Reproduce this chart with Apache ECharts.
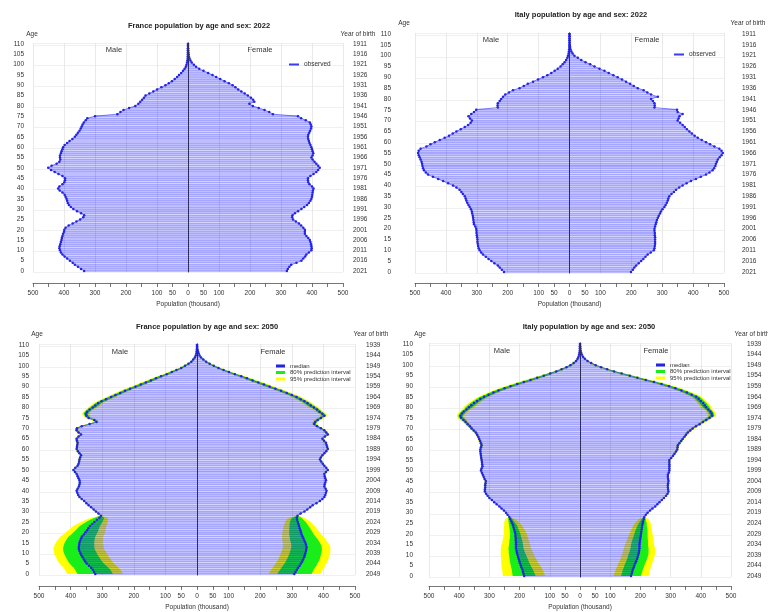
<!DOCTYPE html>
<html><head><meta charset="utf-8">
<script src="https://cdn.jsdelivr.net/npm/echarts@6/dist/echarts.min.js"></script>
<style>html,body{margin:0;padding:0;background:#fff}#c{width:768px;height:612px}</style>
</head><body><div id="c"></div>
<script>
// ---------- categories & tick labels ----------
const ages = [0,1,2,3,4,5,6,7,8,9,10,11,12,13,14,15,16,17,18,19,20,21,22,23,24,25,26,27,28,29,30,31,32,33,34,35,36,37,38,39,40,41,42,43,44,45,46,47,48,49,50,51,52,53,54,55,56,57,58,59,60,61,62,63,64,65,66,67,68,69,70,71,72,73,74,75,76,77,78,79,80,81,82,83,84,85,86,87,88,89,90,91,92,93,94,95,96,97,98,99,100,101,102,103,104,105,106,107,108,109,110];
const yob2022 = [2021,2016,2011,2006,2001,1996,1991,1986,1981,1976,1971,1966,1961,1956,1951,1946,1941,1936,1931,1926,1921,1916,1911];
const yob2050 = [2049,2044,2039,2034,2029,2024,2019,2014,2009,2004,1999,1994,1989,1984,1979,1974,1969,1964,1959,1954,1949,1944,1939];
const xLabelShown = [-500,-400,-300,-200,-100,-50,0,50,100,200,300,400,500];

// ---------- France 2022 (thousand) ----------
const fr22M = [335,345,355,365,372,381,390,398,405,410,
413,415,414,412,410,408,407,405,403,400,
399,395,385,372,360,348,338,335,345,358,
370,378,384,388,390,392,395,398,405,414,
419,415,405,399,397,397,405,418,430,442,
451,440,424,415,412,413,413,410,408,405,
403,398,390,382,373,365,360,355,350,346,
343,340,336,330,325,300,228,218,208,190,
170,160,154,148,142,137,125,112,100,86,
73,62,52,43,35,29,22,16,11,7,
5,3,2,1,1,0.5,0.3,0.2,0.1,0.1,0];
const fr22F = [319,322,327,333,350,366,372,378,382,390,
398,399,398,397,395,393,388,382,377,377,
377,372,365,358,348,339,336,337,345,355,
366,375,384,390,395,398,400,401,402,403,
405,400,392,388,387,387,395,405,414,420,
425,420,414,408,402,398,402,404,402,400,
398,395,392,390,388,387,388,391,394,397,
398,396,393,380,365,355,274,262,247,228,
209,198,214,210,203,193,183,172,162,153,
144,132,118,104,91,79,65,50,36,26,
19,12,8,5,3,2,1,0.5,0.3,0.1,0];

// ---------- Italy 2022 ----------
const it22M = [212,219,226,232,243,253,262,271,280,286,
291,294,296,297,298,298,299,300,301,301,
302,305,309,310,311,312,313,315,316,319,
323,327,331,334,336,339,345,350,356,366,
377,393,409,425,442,458,465,471,474,476,
477,479,482,485,488,490,488,482,463,450,
436,420,404,390,378,366,352,339,328,320,
316,322,327,318,309,302,232,233,232,226,
221,215,208,196,183,162,148,135,118,102,
86,72,59,48,38,29,22,16,11,7,
5,3,2,1,0.6,0.4,0.2,0.1,0.1,0,0];
const it22F = [199,205,210,216,224,232,239,246,253,263,
273,275,276,277,277,277,277,276,276,275,
275,277,279,281,283,286,289,293,296,301,
307,311,315,318,320,323,330,338,345,355,
366,379,393,409,425,442,453,463,468,472,
474,477,480,486,492,496,492,485,469,455,
442,428,415,405,396,388,380,373,366,358,
350,353,356,366,350,348,275,276,275,270,
264,286,264,252,240,221,208,196,183,170,
156,142,127,113,97,81,67,52,38,27,
16,10,6,3,2,1,0.5,0.3,0.1,0,0];

// ---------- France 2050 medians ----------
const fr50M = [322,326,330,335,342,349,354,358,362,366,
369,372,374,374,373,372,370,367,364,358,
353,348,344,339,332,325,317,309,304,312,
320,327,335,343,350,357,365,372,376,379,
381,378,374,372,371,372,375,378,381,386,
391,385,378,375,373,372,370,367,372,377,
381,380,379,378,380,381,375,367,375,381,
380,365,340,318,325,343,350,352,348,340,
330,322,313,302,288,272,258,243,228,212,
195,178,162,146,130,114,96,80,65,50,
38,27,18,12,7,4,2,1,0.5,0.2,0.1];
const fr50F = [308,312,316,320,325,329,333,336,339,341,
343,345,346,347,345,343,340,337,334,331,
329,327,325,323,321,319,317,316,318,328,
340,349,358,366,378,389,397,403,406,408,
410,407,403,404,406,408,406,404,403,408,
414,409,403,398,393,389,392,397,403,409,
414,412,410,408,402,397,405,414,409,403,
392,380,371,374,382,392,403,397,388,380,
370,360,350,340,328,315,300,284,266,248,
230,212,194,176,158,140,120,101,84,68,
53,40,29,20,13,8,5,3,1.5,0.8,0.3];

// ---------- Italy 2050 medians ----------
const it50M = [185,187,189,191,194,196,199,201,203,205,
207,209,210,212,212,212,212,213,213,214,
214,216,218,220,222,225,228,231,234,240,
245,252,260,267,276,284,292,300,306,311,
315,315,314,314,313,312,316,319,322,325,
328,326,323,324,325,326,327,328,329,330,
330,328,326,328,331,334,337,341,345,352,
359,365,372,379,386,394,396,391,385,376,
368,360,351,341,330,318,303,287,270,250,
230,208,186,164,142,120,99,79,61,45,
32,21,13,8,5,3,1.5,0.8,0.4,0.2,0.1];
const it50F = [169,171,173,175,178,180,183,186,189,191,
193,195,196,197,197,197,198,199,200,201,
202,203,204,205,206,208,209,211,213,218,
224,232,240,249,256,263,271,278,285,290,
293,292,291,291,292,293,292,291,291,294,
296,296,296,296,296,296,302,308,313,318,
322,323,324,329,335,340,346,351,357,365,
373,384,396,407,418,429,438,436,432,425,
418,413,408,400,393,385,370,354,336,316,
295,270,245,218,190,165,138,113,90,70,
52,37,25,16,10,6,3.5,2,1,0.5,0.2];

// ---------- prediction-interval half widths (thousand) ----------
// ages 0-27 (born after 2022)
const frMw80Young = [56,56,56,55,55,54,54,53,53,52,52,51,50,49,48,47,45,44,42,40,38,36,34,32,29,26,21,15];
const frMw95Young = [88,88,88,87,87,86,86,85,84,84,83,82,80,79,77,75,73,70,68,65,62,59,56,52,48,42,35,25];
const frFw80Young = [54,54,53,53,53,52,52,52,51,51,50,50,49,48,47,46,45,43,41,39,37,35,33,30,28,25,20,15];
const frFw95Young = [82,82,82,81,81,80,80,79,79,78,78,77,76,75,74,72,70,68,65,62,59,56,53,49,45,40,33,24];
const itMw80Young = [38,37,36,35,34,33,32,31,30,29,28,27,26,25,24,23,22,21,19,18,17,16,15,14,13,11,9,7];
const itMw95Young = [70,69,68,67,66,64,62,60,58,57,55,54,52,50,49,47,45,43,41,39,38,36,34,32,29,26,22,16];
const itFw80Young = [33,33,33,33,33,33,33,33,33,33,33,32,31,30,29,28,27,26,24,23,22,21,19,17,15,13,10,7];
const itFw95Young = [58,58,57,57,56,56,56,55,55,55,55,54,53,52,50,48,46,44,42,40,38,36,34,32,29,26,22,16];
// ages 28-110
const frWOld80 = [1,1,1,1,1,1,1,1,1,1,1,1,1,2,2,2,2,2,2,2,2,2,2,2,2,2,2,2,2,2,2,2,2,2,2,3,3,3,3,3,4,4,4,5,5,5,6,6,6,7,7,7,9,9,9,9,9,9,9,9,9,9,9,9,9,9,8,8,7,6,6,5,4,4,3,2,2,1,1,1,0,0,0];
const frWOld95 = [2,2,2,2,2,2,2,2,2,2,2,2,2,3,3,3,3,3,3,3,3,3,3,3,3,3,3,3,4,4,4,4,4,4,4,5,5,5,5,5,6,6,6,8,8,8,10,10,10,12,12,12,15,15,15,15,15,15,15,15,15,15,15,15,15,14,13,12,11,10,9,8,7,6,5,4,3,2,2,1,1,0,0];
const itWOld80 = [1,1,1,1,1,1,1,1,1,1,1,1,1,2,2,2,2,2,2,2,2,2,2,2,2,2,2,2,2,2,2,2,2,2,2,3,3,3,3,3,4,4,4,5,5,5,7,7,7,8,8,8,11,11,11,11,11,11,11,11,11,11,11,11,11,10,10,9,8,7,6,5,4,4,3,2,2,1,1,1,0,0,0];
const itWOld95 = [2,2,2,2,2,2,2,2,2,2,2,2,2,3,3,3,3,3,3,3,3,3,3,3,3,3,3,3,4,4,4,4,4,4,4,5,5,5,5,5,7,7,7,9,9,9,12,12,12,14,14,14,18,18,18,18,18,18,18,18,18,18,18,18,18,17,16,15,13,12,10,9,8,6,5,4,3,2,2,1,1,0,0];

// ---------- colours ----------
const BAR = 'rgba(0,0,255,0.35)';
const LINE = '#2323e2';
const LINE_SOFT = '#5a5af0';
const G80 = '#1aee1a';
const Y95 = '#ffff00';
const TXT = '#333';
const FONT = 'Liberation Sans';

const panels = [
  {title:'France population by age and sex: 2022', t:[199,26], grid:{left:33,top:43,width:310,height:229},
   offL:6, offR:7, offX:11, male:fr22M, female:fr22F, years:yob2022, lineName:'observed', bands:null,
   mTxt:[114,50], fTxt:[260,50], leg:{left:289,top:61}, ageTxt:[32,34], yobTxt:[358,34]},
  {title:'Italy population by age and sex: 2022', t:[581,15], grid:{left:415,top:33,width:309,height:240},
   offL:21, offR:15, offX:10, male:it22M, female:it22F, years:yob2022, lineName:'observed', bands:null,
   mTxt:[491,40], fTxt:[647,40], leg:{left:674,top:51}, ageTxt:[404,23], yobTxt:[748,23]},
  {title:'France population by age and sex: 2050', t:[207,327], grid:{left:39,top:344,width:316,height:234},
   offL:7, offR:8, offX:11, male:fr50M, female:fr50F, years:yob2050, lineName:'median',
   bands:{m80:frMw80Young.concat(frWOld80), m95:frMw95Young.concat(frWOld95), f80:frFw80Young.concat(frWOld80), f95:frFw95Young.concat(frWOld95)},
   mTxt:[120,352], fTxt:[273,352], leg:{left:276,top:363}, ageTxt:[37,334], yobTxt:[371,334]},
  {title:'Italy population by age and sex: 2050', t:[589,327], grid:{left:429,top:343,width:302,height:235},
   offL:13, offR:13, offX:9, male:it50M, female:it50F, years:yob2050, lineName:'median',
   bands:{m80:itMw80Young.concat(itWOld80), m95:itMw95Young.concat(itWOld95), f80:itFw80Young.concat(itWOld80), f95:itFw95Young.concat(itWOld95)},
   mTxt:[502,351], fTxt:[656,351], leg:{left:656,top:362}, ageTxt:[420,334], yobTxt:[752,334]}
];

const grids = [], xAxes = [], yAxes = [], series = [], legends = [], graphics = [];
const small = {fontSize:6.5, color:TXT, fontFamily:FONT};
const txt = (x, y, text, size, weight) => ({type:'text', x, y, silent:true,
  style:{text, fontSize:size, fontWeight:weight || 'normal', fontFamily:FONT, fill:weight ? '#222' : TXT, align:'center', verticalAlign:'middle'}});

panels.forEach((p, i) => {
  grids.push(p.grid);
  xAxes.push({gridIndex:i, type:'value', min:-500, max:500, interval:50, position:'bottom', offset:p.offX,
    axisLine:{show:true, lineStyle:{color:'#555', width:0.8}}, axisTick:{show:true, length:4, lineStyle:{color:'#555', width:0.8}},
    axisLabel:Object.assign({margin:7, formatter:v => xLabelShown.indexOf(v) >= 0 ? String(Math.abs(v)) : ''}, small),
    splitLine:{show:false}, name:'Population (thousand)', nameLocation:'middle', nameGap:18, nameTextStyle:small});
  xAxes.push({gridIndex:i, type:'value', min:-500, max:500, interval:100, position:'top',
    axisLine:{show:false}, axisTick:{show:false}, axisLabel:{show:false},
    splitLine:{show:true, lineStyle:{color:'#e3e3e3', width:0.8}}});
  yAxes.push({gridIndex:i, type:'category', data:ages, position:'left', offset:p.offL,
    axisLine:{show:true, lineStyle:{color:'#666', width:0.8}}, axisTick:{interval:4, alignWithLabel:true, length:3, lineStyle:{color:'#555', width:0.8}},
    axisLabel:Object.assign({interval:4, margin:3}, small),
    splitLine:{show:true, interval:9, lineStyle:{color:'#ececec', width:0.8}}});
  yAxes.push({gridIndex:i, type:'category', data:ages, position:'right', offset:p.offR,
    axisLine:{show:true, lineStyle:{color:'#666', width:0.8}}, axisTick:{interval:4, alignWithLabel:true, length:3, lineStyle:{color:'#555', width:0.8}},
    axisLabel:Object.assign({interval:4, margin:3, formatter:(v, idx) => String(p.years[idx / 5])}, small),
    splitLine:{show:false}});

  const xi = 2 * i, yi = 2 * i;
  if (p.bands) {
    const band = (name, color, wm, wf) => ({
      type:'custom', name, xAxisIndex:xi, yAxisIndex:yi, z:1, silent:true, itemStyle:{color},
      data:[[0, 0]], encode:{x:0, y:1},
      renderItem:(params, api) => {
        const kids = [];
        [[-1, p.male, wm], [1, p.female, wf]].forEach(([s, med, w]) => {
          const pts = [];
          for (let a = 0; a < med.length; a++) pts.push(api.coord([s * (med[a] + w[a]), a]));
          for (let a = med.length - 1; a >= 0; a--) pts.push(api.coord([s * Math.max(0, med[a] - w[a]), a]));
          kids.push({type:'polygon', shape:{points:pts}, style:{fill:color}});
        });
        return {type:'group', children:kids};
      }
    });
    series.push(band('95% prediction interval', Y95, p.bands.m95, p.bands.f95));
    series.push(band('80% prediction interval', G80, p.bands.m80, p.bands.f80));
  }
  series.push({type:'bar', name:'male bars', xAxisIndex:xi, yAxisIndex:yi, data:p.male.map(v => -v),
    barCategoryGap:'16%', barGap:'-100%', itemStyle:{color:BAR}, z:2, silent:true});
  series.push({type:'bar', name:'female bars', xAxisIndex:xi, yAxisIndex:yi, data:p.female,
    barCategoryGap:'16%', barGap:'-100%', itemStyle:{color:BAR}, z:2, silent:true,
    markLine:{silent:true, symbol:['none','none'], label:{show:false}, animation:false,
      lineStyle:{color:'#2e2e5e', width:1, type:'solid'}, data:[{xAxis:0}]}});
  [p.male.map(v => -v), p.female].forEach(d => {
    series.push({type:'line', name:p.lineName, xAxisIndex:xi, yAxisIndex:yi, data:d, z:3, silent:true,
      symbol:'circle', symbolSize:2.5, showAllSymbol:true, itemStyle:{color:LINE},
      lineStyle:{color:LINE_SOFT, width:0.8}});
  });

  legends.push(p.bands ? {
    left:p.leg.left, top:p.leg.top, orient:'vertical', itemWidth:9, itemHeight:3, itemGap:0.5, padding:0,
    textStyle:{fontSize:6, color:TXT, fontFamily:FONT, lineHeight:6}, selectedMode:false,
    data:[{name:'median', icon:'rect', itemStyle:{color:LINE}},
          {name:'80% prediction interval', icon:'rect', itemStyle:{color:G80}},
          {name:'95% prediction interval', icon:'rect', itemStyle:{color:Y95}}]
  } : {
    left:p.leg.left, top:p.leg.top, orient:'vertical', itemWidth:10, itemHeight:2, padding:0,
    textStyle:{fontSize:6.5, color:TXT, fontFamily:FONT}, selectedMode:false,
    data:[{name:'observed', icon:'rect', itemStyle:{color:'#3b3bf0'}}]
  });

  graphics.push(txt(p.t[0], p.t[1], p.title, 7.5, 'bold'));
  graphics.push(txt(p.mTxt[0], p.mTxt[1], 'Male', 7.5));
  graphics.push(txt(p.fTxt[0], p.fTxt[1], 'Female', 7.5));
  graphics.push(txt(p.ageTxt[0], p.ageTxt[1], 'Age', 6.5));
  graphics.push(txt(p.yobTxt[0], p.yobTxt[1], 'Year of birth', 6.5));
});

const chart = echarts.init(document.getElementById('c'), null, {width:768, height:612});
chart.setOption({
  animation:false,
  backgroundColor:'#ffffff',
  textStyle:{fontFamily:FONT},
  grid:grids, xAxis:xAxes, yAxis:yAxes, series, legend:legends, graphic:graphics
});
</script>
</body></html>
